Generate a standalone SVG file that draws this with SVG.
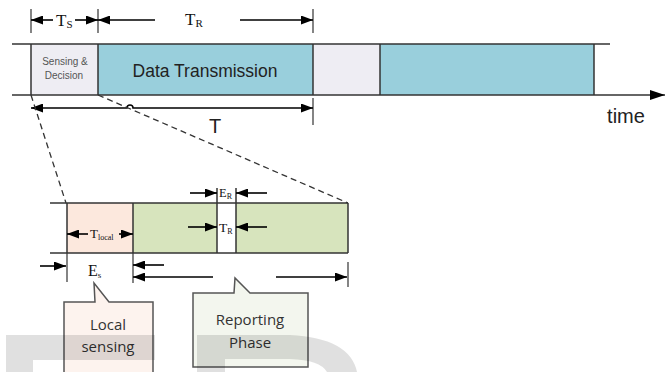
<svg xmlns="http://www.w3.org/2000/svg" width="672" height="372" viewBox="0 0 672 372">
<defs>
<marker id="ah" viewBox="0 0 12 9" refX="12" refY="4.5" markerWidth="12" markerHeight="9" markerUnits="userSpaceOnUse" orient="auto-start-reverse"><path d="M0,0 L12,4.5 L0,9 Z" fill="#000"/></marker>
<marker id="axh" viewBox="0 0 15 10" refX="15" refY="5" markerWidth="15" markerHeight="10" markerUnits="userSpaceOnUse" orient="auto"><path d="M0,0 L15,5 L0,10 Z" fill="#000"/></marker>
</defs>
<style>
.edge{stroke:#333;stroke-width:1.5;fill:none}
.tick{stroke:#333;stroke-width:1.2}
.arr{stroke:#000;stroke-width:1.6;fill:none;marker-end:url(#ah)}
.dash{stroke:#333;stroke-width:1.3;stroke-dasharray:6 4;fill:none}
.serif{font-family:"Liberation Serif","Times New Roman",serif;fill:#111}
.sans{font-family:"Liberation Sans",Arial,sans-serif}
.cal{font-family:"Open Sans","Liberation Sans",sans-serif;fill:#333;font-size:15px;text-anchor:middle}
.callout{stroke:#555;stroke-width:1.5}
</style>

<g id="frame-bar">
<rect id="sd1" x="31" y="44" width="67" height="51" fill="#eeedf3"/>
<rect id="dt1" x="98" y="44" width="215" height="51" fill="#99cfdc"/>
<rect id="sd2" x="313" y="44" width="67" height="51" fill="#eeedf3"/>
<rect id="dt2" x="380" y="44" width="214" height="51" fill="#99cfdc"/>
<line class="edge" x1="12" y1="44" x2="610" y2="44"/>
<line class="edge" x1="31" y1="44" x2="31" y2="95"/>
<line class="edge" x1="98" y1="44" x2="98" y2="95"/>
<line class="edge" x1="313" y1="44" x2="313" y2="95"/>
<line class="edge" x1="380" y1="44" x2="380" y2="95"/>
<line class="edge" x1="594" y1="44" x2="594" y2="95"/>
<text class="sans" x="65" y="65" font-size="10" fill="#555" text-anchor="middle">Sensing &amp;</text>
<text class="sans" x="64" y="79" font-size="10" fill="#555" text-anchor="middle">Decision</text>
<text class="sans" x="205" y="77" font-size="17.5" fill="#222" text-anchor="middle">Data Transmission</text>
</g>

<g id="time-axis">
<line x1="12" y1="95" x2="665" y2="95" stroke="#333" stroke-width="1.6" marker-end="url(#axh)"/>
<text class="sans" x="626" y="123" font-size="20" fill="#222" text-anchor="middle">time</text>
</g>

<g id="lower-bar">
<rect x="67" y="203" width="66" height="50" fill="#fce8dd"/>
<rect x="133" y="203" width="84" height="50" fill="#d7e4bd"/>
<rect x="217" y="203" width="19" height="50" fill="#ffffff"/>
<rect x="236" y="203" width="112" height="50" fill="#d7e4bd"/>
<line class="edge" x1="50" y1="203" x2="348" y2="203"/>
<line class="edge" x1="50" y1="253" x2="348" y2="253"/>
<line class="edge" x1="67" y1="203" x2="67" y2="253"/>
<line class="edge" x1="133" y1="203" x2="133" y2="253"/>
<line class="edge" x1="217" y1="188" x2="217" y2="253"/>
<line class="edge" x1="236" y1="188" x2="236" y2="253"/>
<line class="edge" x1="348" y1="203" x2="348" y2="253"/>
</g>

<g id="connectors">
<line class="tick" x1="31" y1="9" x2="31" y2="33"/>
<line class="tick" x1="98" y1="9" x2="98" y2="33"/>
<line class="tick" x1="313" y1="9" x2="313" y2="33"/>
<line class="arr" x1="53" y1="20" x2="31" y2="20"/>
<line class="arr" x1="75" y1="20" x2="98" y2="20"/>
<line class="arr" x1="155" y1="20" x2="98" y2="20"/>
<line class="arr" x1="240" y1="20" x2="313" y2="20"/>
<line class="tick" x1="313" y1="98" x2="313" y2="125"/>
<path d="M31,108 H127 A3,3 0 0 1 133,108 H313" stroke="#000" stroke-width="1.5" fill="none" marker-start="url(#ah)" marker-end="url(#ah)"/>
<line class="dash" x1="31" y1="95" x2="66" y2="203"/>
<line class="dash" x1="98" y1="95" x2="348" y2="203"/>
<line class="arr" x1="88" y1="234" x2="67" y2="234"/>
<line class="arr" x1="119" y1="234" x2="133" y2="234"/>
<line class="arr" x1="190" y1="193" x2="217" y2="193"/>
<line class="arr" x1="267" y1="193" x2="236" y2="193"/>
<line class="arr" x1="188" y1="227" x2="217" y2="227"/>
<line class="arr" x1="267" y1="227" x2="236" y2="227"/>
<line class="tick" x1="67" y1="253" x2="67" y2="282"/>
<line class="tick" x1="133" y1="253" x2="133" y2="283"/>
<line class="tick" x1="348" y1="262" x2="348" y2="287"/>
<line class="arr" x1="40" y1="266" x2="66" y2="266"/>
<line class="arr" x1="164" y1="265" x2="133" y2="265"/>
<line class="arr" x1="213" y1="277" x2="133" y2="277"/>
<line class="arr" x1="276" y1="277" x2="347" y2="277"/>
</g>

<g id="labels">
<text class="serif" x="56" y="26" font-size="17">T<tspan font-size="11" dy="2">S</tspan></text>
<text class="serif" x="185" y="25" font-size="17">T<tspan font-size="11" dy="2">R</tspan></text>
<text class="sans" x="215" y="133" font-size="20" fill="#222" text-anchor="middle">T</text>
<text class="serif" x="90" y="238" font-size="13">T<tspan font-size="8" dy="1.5">local</tspan></text>
<text class="serif" x="219" y="197" font-size="12.5">E<tspan font-size="8" dy="1.5">R</tspan></text>
<text class="serif" x="219" y="232" font-size="13.5">T<tspan font-size="8" dy="1.5">R</tspan></text>
<text class="serif" x="88" y="276" font-size="16">E<tspan font-size="9" dy="2">s</tspan></text>
</g>

<g id="local-sensing">
<path class="callout" d="M64,302 H95 L94,283 L109,302 H153 V380 H64 Z" fill="#fdf3ee"/>
<text class="cal" x="108" y="330">Local</text>
<text class="cal" x="108" y="352">sensing</text>
</g>

<g id="reporting-phase">
<path class="callout" d="M193,293 H234 L235,278 L250,293 H308 V367 H193 Z" fill="#f3f6ee"/>
<text class="cal" x="250" y="325">Reporting</text>
<text class="cal" x="250" y="348">Phase</text>
</g>

<g id="watermark" fill="#000" fill-opacity="0.12">
<path d="M6,335 H155 V360 H33 V372 H6 Z"/>
<path d="M197,335 H290 Q350,338 357,372 H327 Q320,360 290,359 H225 V372 H197 Z"/>
</g>
</svg>
